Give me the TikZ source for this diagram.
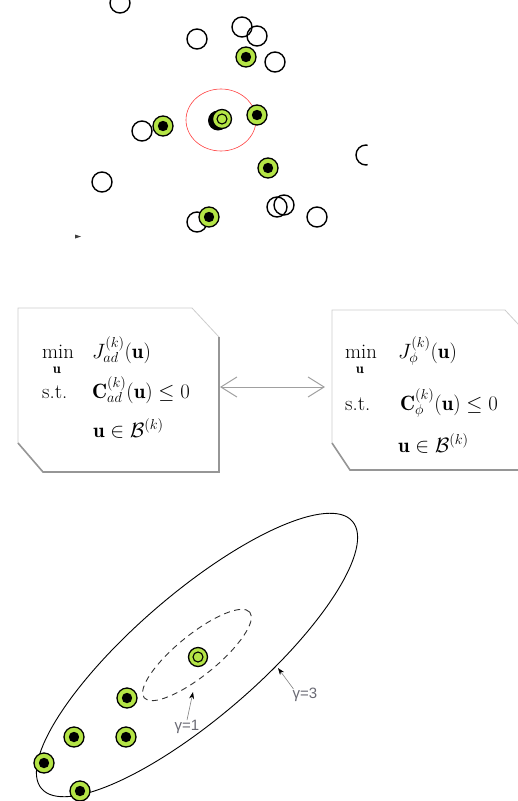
\documentclass[tikz,border=0pt]{standalone}
\usepackage{fontspec}
\newfontfamily\labfont{Liberation Sans}
\usetikzlibrary{arrows.meta}
\definecolor{ptgreen}{RGB}{180,228,70}
\definecolor{boxline}{RGB}{205,205,205}
\definecolor{boxshadow}{RGB}{150,150,150}
\definecolor{labgray}{RGB}{105,105,115}
\definecolor{arrgray}{RGB}{160,160,160}
\begin{document}
\begin{tikzpicture}[x=1pt,y=-1pt,
 opt/.style={circle,draw=black,line width=1.4pt,minimum size=20pt,inner sep=0pt},
 gpt/.style={circle,draw=black,fill=ptgreen,line width=1.3pt,minimum size=20pt,inner sep=0pt,
   path picture={\fill[black] (path picture bounding box.center) circle (5.2pt);}},
 cpt/.style={circle,draw=black,fill=ptgreen,line width=1.3pt,minimum size=19pt,inner sep=0pt,
   path picture={\draw[black,line width=1.1pt,fill=ptgreen] (path picture bounding box.center) circle (5pt);}},
 boxedge/.style={draw=boxline,line width=0.8pt,fill=white},
 boxshade/.style={draw=boxshadow,line width=1.6pt},
 txt/.style={anchor=base west,inner sep=0pt,font=\fontsize{20.74}{25}\selectfont},
 subu/.style={anchor=base,inner sep=0pt,font=\fontsize{14.4}{17}\selectfont},
 gam/.style={font=\labfont\fontsize{15}{17}\selectfont,text=labgray,inner sep=1pt},
 gamarrow/.style={draw=gray,line width=0.6pt,-{Stealth[length=7pt,width=5pt,black]}},
 darr/.style={draw=arrgray,line width=1pt,{Straight Barb[length=16pt,width=20pt]}-{Straight Barb[length=16pt,width=20pt]}}
]
\useasboundingbox (0,0) rectangle (518,801);
\clip (0,0) rectangle (518,801);

% ---------- top scatter ----------
\draw[red!75,line width=0.6pt] (221,120) ellipse [x radius=35pt, y radius=31pt];
\node[opt] (o1) at (120,3) {};
\node[opt] (o2) at (197,39) {};
\node[opt] (o3) at (242,27) {};
\node[opt] (o4) at (257,36) {};
\node[opt] (o5) at (275,62) {};
\node[opt] (o6) at (142,131) {};
\node[opt] (o7) at (102,182) {};
\node[opt] (o8) at (277,207) {};
\node[opt] (o9) at (284,205) {};
\node[opt] (o10) at (317,217) {};
\node[opt] (o11) at (197,222) {};
\begin{scope}
 \clip (340,130) rectangle (367.5,180);
 \node[opt] (o12) at (366,155) {};
\end{scope}
\fill[black!75] (75,234.5) -- (81,236.5) -- (75,238.5) -- cycle;

\node[gpt] (g1) at (246,57) {};
\node[gpt] (g2) at (257,115) {};
\node[gpt] (g3) at (163,126) {};
\node[gpt] (g4) at (268,168) {};
\node[gpt] (g5) at (209,217) {};
\fill[black] (218,120.5) circle (10pt);
\node[cpt] (c0) at (222,119) {};

% ---------- boxes ----------
\path[boxedge] (18,308) -- (192,308) -- (219,337) -- (219,472) -- (43,472) -- (18,443) -- cycle;
\draw[boxshade] (219,337) -- (219,472) -- (43,472) -- (18,443);
\path[boxedge] (332,310) -- (505,310) -- (532,339) -- (532,470) -- (350,470) -- (332,443) -- cycle;
\draw[boxshade] (532,470) -- (350,470) -- (332,443);

\node[txt] (lmin) at (42,358) {min};
\node[subu] (lu) at (57,373) {$\mathbf u$};
\node[txt] (lJ) at (92,358) {$J^{(k)}_{ad}(\mathbf u)$};
\node[txt] (lst) at (42,398) {s.t.};
\node[txt] (lC) at (92,398) {$\mathbf C^{(k)}_{ad}(\mathbf u)\le 0$};
\node[txt] (lB) at (93,437) {$\mathbf u\in\mathcal B^{(k)}$};

\node[txt] (rmin) at (345,358) {min};
\node[subu] (ru) at (360,373) {$\mathbf u$};
\node[txt] (rJ) at (398,358) {$J^{(k)}_{\phi}(\mathbf u)$};
\node[txt] (rst) at (345,410) {s.t.};
\node[txt] (rC) at (400,410) {$\mathbf C^{(k)}_{\phi}(\mathbf u)\le 0$};
\node[txt] (rB) at (398,452) {$\mathbf u\in\mathcal B^{(k)}$};

\coordinate (lE) at (219,387);
\coordinate (rW) at (332,387);
\draw[darr,shorten <=1pt,shorten >=7pt] (lE) -- (rW);

% ---------- bottom ellipses ----------
\draw[black,line width=0.9pt,rotate around={40.7:(197,655)}] (197,655) ellipse [x radius=205pt, y radius=62pt];
\draw[black!80,line width=0.9pt,dash pattern=on 6pt off 4.5pt,rotate around={39:(197,655)}] (197,655) ellipse [x radius=68pt, y radius=20.5pt];

\node[gpt] (b1) at (127,698) {};
\node[gpt] (b2) at (74,737) {};
\node[gpt] (b3) at (126,737) {};
\node[gpt] (b4) at (44,763) {};
\node[gpt] (b5) at (80,791) {};
\node[cpt] (b0) at (198,657) {};

\node[gam] (gam1) at (187,727) {γ=1};
\node[gam] (gam3) at (305,695) {γ=3};
\coordinate (t1) at (193,692);
\coordinate (t3) at (278,668);
\draw[gamarrow] (gam1.north) ++(0,1) -- (t1);
\draw[gamarrow] (gam3.north west) ++(2,2) -- (t3);
\end{tikzpicture}
\end{document}
